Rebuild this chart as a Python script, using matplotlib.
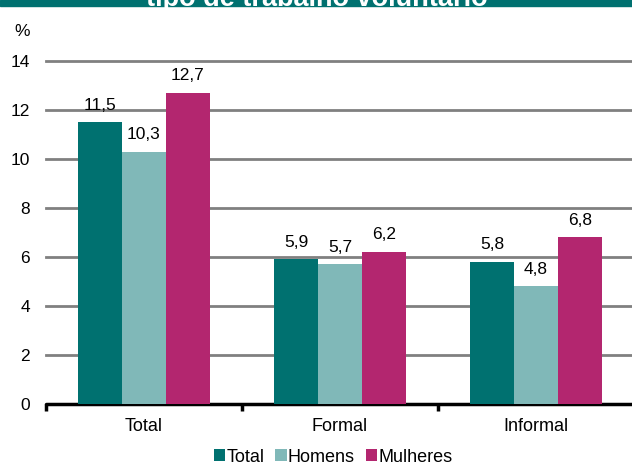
import matplotlib
matplotlib.use("Agg")
import matplotlib.pyplot as plt
import numpy as np
from matplotlib.patches import Rectangle

plt.rcParams['font.family'] = ['Liberation Sans', 'DejaVu Sans']

categories = ["Total", "Formal", "Informal"]
series = ["Total", "Homens", "Mulheres"]
total = [11.5, 5.9, 5.8]
homens = [10.3, 5.7, 4.8]
mulheres = [12.7, 6.2, 6.8]
colors = ["#007170", "#80B8B8", "#B3266F"]
title = "tipo de trabalho voluntário"

fs = 13
fs_num = 12.5

fig = plt.figure(figsize=(6.32, 4.65), dpi=100)
ax = fig.add_axes([46 / 632, 1 - 404 / 465, 1 - 46 / 632, 343 / 465])

x = np.arange(len(categories))
w = 0.2245
for k, (vals, col) in enumerate(zip([total, homens, mulheres], colors)):
    pos = x + (k - 1) * w
    ax.bar(pos, vals, width=w, color=col, label=series[k], zorder=3)
    for p, v in zip(pos, vals):
        ax.annotate(f"{v:.1f}".replace(".", ","), (p, v), xytext=(0, 7),
                    textcoords="offset points", ha="center", va="bottom",
                    fontsize=fs_num, zorder=4)

ax.set_xlim(-0.5, 2.49)
ax.set_ylim(0, 14)
ax.set_yticks(range(0, 15, 2))
for yv in range(2, 15, 2):
    ax.axhline(yv, color="#808080", lw=2, zorder=1, clip_on=False)
for s in ["top", "right", "left"]:
    ax.spines[s].set_visible(False)
ax.spines["bottom"].set_linewidth(2.5)
ax.spines["bottom"].set_capstyle("round")
ax.tick_params(axis="y", length=0, labelsize=fs_num, pad=11.5)
ax.set_xticks([-0.5, 0.5, 1.5])
ax.set_xticklabels([])
ax.tick_params(axis="x", length=5, width=2.5, direction="out")
ax.set_xticks(x, minor=True)
ax.set_xticklabels(categories, minor=True, fontsize=fs)
ax.tick_params(axis="x", which="minor", length=0, pad=10)

fig.text(22 / 632, 1 - 32 / 465, "%", fontsize=fs_num, ha="center", va="center")

# cut-off title band at the top
band = Rectangle((0, 1 - 6.5 / 465), 1, 6.5 / 465, transform=fig.transFigure,
                 color="#007170", zorder=0)
fig.patches.append(band)
fig.text(317 / 632, 1 - 5.5 / 465, title, fontsize=19.5, fontweight="bold", color="white",
         ha="center", va="baseline")

fig.legend(loc="center", bbox_to_anchor=(333 / 632, 1 - 457 / 465), ncol=3, frameon=False,
           fontsize=fs, handlelength=0.65, handleheight=0.65, handletextpad=0.05,
           columnspacing=0.6, borderaxespad=0, borderpad=0)

fig.savefig("out.png", dpi=100)
